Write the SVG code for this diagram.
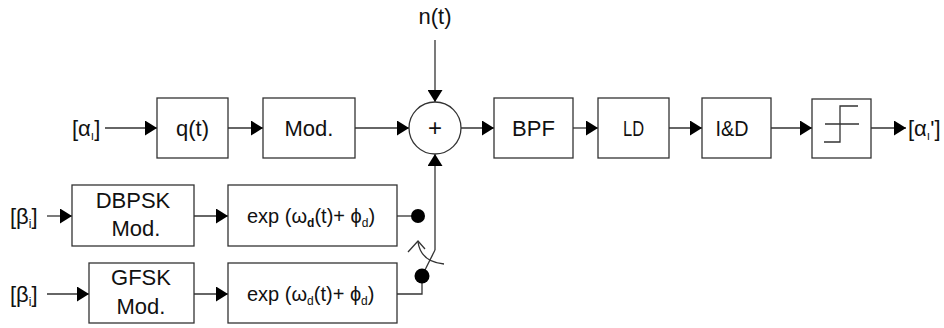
<svg xmlns="http://www.w3.org/2000/svg" width="944" height="328" viewBox="0 0 944 328">
<defs>
<marker id="ah" markerUnits="userSpaceOnUse" markerWidth="13" markerHeight="15" refX="12" refY="7.5" orient="auto">
<path d="M0,0 L12,7.5 L0,15 z" fill="#000"/>
</marker>
<style>
.box{fill:#fff;stroke:#333;stroke-width:1.3}
.ln{fill:none;stroke:#333;stroke-width:1.3}
.ar{fill:none;stroke:#333;stroke-width:1.3;marker-end:url(#ah)}
text{font-family:"Liberation Sans",Arial,sans-serif;font-size:22px;fill:#111}
.c{text-anchor:middle}
.sub{font-size:12px}
.dot{fill:#000}
.big{font-size:24px}
.ldt{font-size:22px}
</style>
</defs>
<rect width="944" height="328" fill="#fff"/>
<g id="connectors">
<line class="ar" x1="105" y1="128" x2="157" y2="128"/>
<line class="ar" x1="228" y1="128" x2="263" y2="128"/>
<line class="ar" x1="355" y1="128" x2="409" y2="128"/>
<line class="ar" x1="435" y1="40" x2="435" y2="102"/>
<line class="ar" x1="461" y1="128" x2="494" y2="128"/>
<line class="ar" x1="573" y1="128" x2="598" y2="128"/>
<line class="ar" x1="669" y1="128" x2="702" y2="128"/>
<line class="ar" x1="771" y1="128" x2="812" y2="128"/>
<line class="ar" x1="871" y1="128" x2="906" y2="128"/>
<line class="ar" x1="47" y1="216" x2="72" y2="216"/>
<line class="ar" x1="194" y1="216" x2="228" y2="216"/>
<line class="ln" x1="397" y1="216" x2="412" y2="216"/>
<line class="ar" x1="47" y1="294" x2="89" y2="294"/>
<line class="ar" x1="194" y1="294" x2="228" y2="294"/>
<polyline class="ln" points="397,294 422,294 422,280"/>
<line class="ar" x1="435" y1="250" x2="435" y2="154"/>
<line class="ln" x1="435" y1="250" x2="424" y2="272"/>
<path class="ln" d="M418,242 Q421,262 444,264"/>
<polyline class="ln" points="408,252 418,241 425,249"/>
</g>
<g id="alpha_in"><text x="72" y="136">[α<tspan class="sub" dy="4">ı</tspan><tspan dy="-4">]</tspan></text></g>
<g id="qt"><rect class="box" x="157" y="98" width="71" height="60"/><text class="c" x="192.5" y="136">q(t)</text></g>
<g id="mod"><rect class="box" x="263" y="98" width="92" height="60"/><text class="c" x="309" y="136">Mod.</text></g>
<g id="noise"><text class="c" x="435" y="24">n(t)</text></g>
<g id="sum"><circle class="box" cx="435" cy="128" r="26"/><text class="c big" x="435" y="136">+</text></g>
<g id="bpf"><rect class="box" x="494" y="98" width="79" height="60"/><text class="c" x="533.5" y="136">BPF</text></g>
<g id="ld"><rect class="box" x="598" y="98" width="71" height="60"/><text class="c ldt" transform="translate(633.5,136) scale(0.75,1)">LD</text></g>
<g id="id"><rect class="box" x="702" y="98" width="69" height="60"/><text class="c ldt" transform="translate(732,136) scale(0.9,1)">I&amp;D</text></g>
<g id="limiter"><rect class="box" x="812" y="99" width="59" height="59"/><polyline class="ln" points="824,142 840,142 840,106 858,106"/><line class="ln" x1="825" y1="124" x2="859" y2="124"/></g>
<g id="alpha_out"><text x="908" y="136">[α<tspan class="sub" dy="4">ı</tspan><tspan dy="-4">']</tspan></text></g>
<g id="beta1"><text x="10" y="224">[β<tspan class="sub" dy="4">i</tspan><tspan dy="-4">]</tspan></text></g>
<g id="dbpsk"><rect class="box" x="72" y="185" width="122" height="61"/><text class="c" x="133" y="208">DBPSK</text><text class="c" x="136" y="236">Mod.</text></g>
<g id="exp1"><rect class="box" x="228" y="185" width="169" height="61"/><text x="247" y="223" style="font-size:20px">exp (ω<tspan class="sub" dy="4" font-weight="bold">d</tspan><tspan dy="-4">(t)+ ϕ</tspan><tspan class="sub" dy="4">d</tspan><tspan dy="-4">)</tspan></text></g>
<g id="dot1"><circle class="dot" cx="418" cy="216" r="7"/></g>
<g id="beta2"><text x="10" y="302">[β<tspan class="sub" dy="4">i</tspan><tspan dy="-4">]</tspan></text></g>
<g id="gfsk"><rect class="box" x="89" y="263" width="105" height="60"/><text class="c" x="141" y="285">GFSK</text><text class="c" x="141" y="314">Mod.</text></g>
<g id="exp2"><rect class="box" x="228" y="263" width="169" height="60"/><text x="247" y="301" style="font-size:20px">exp (ω<tspan class="sub" dy="4">d</tspan><tspan dy="-4">(t)+ ϕ</tspan><tspan class="sub" dy="4">d</tspan><tspan dy="-4">)</tspan></text></g>
<g id="dot2"><circle class="dot" cx="422" cy="276" r="7.5"/></g>
</svg>
